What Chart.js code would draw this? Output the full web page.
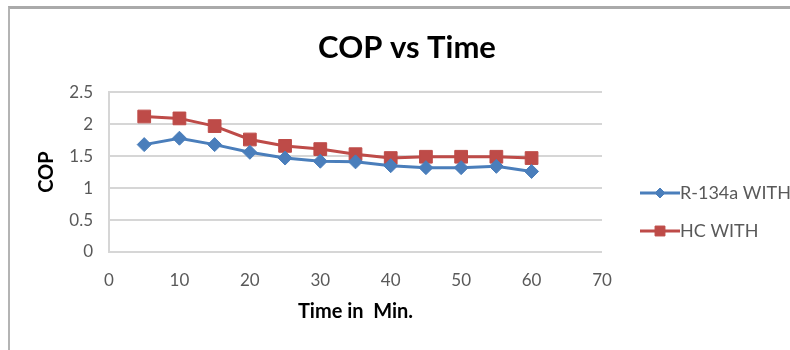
<!DOCTYPE html>
<html lang="en">
<head>
<meta charset="UTF-8">
<title>COP vs Time</title>
<script src="https://cdn.jsdelivr.net/npm/chart.js"></script>
<style>
    html, body { margin: 0; padding: 0; background: #fff; }
    #wrap { position: relative; width: 790px; height: 350px; overflow: hidden; }
    /* grey frame of the pasted chart, only top and left edges are visible */
    #frame {
        position: absolute; left: 8px; top: 6px; width: 900px; height: 500px;
        border-top: 3px solid #aaaaaa; border-left: 2px solid #b4b4b4;
    }
    #chart { position: absolute; left: 0; top: 0; }
</style>
</head>
<body>
<div id="wrap">
    <div id="frame"></div>
    <canvas id="chart" width="790" height="350"></canvas>
</div>
<script>
    // data
    const timeMin  = [5, 10, 15, 20, 25, 30, 35, 40, 45, 50, 55, 60];
    const r134aCop = [1.68, 1.78, 1.68, 1.56, 1.47, 1.42, 1.41, 1.35, 1.32, 1.32, 1.34, 1.26];
    const hcCop    = [2.12, 2.09, 1.97, 1.76, 1.66, 1.61, 1.53, 1.47, 1.49, 1.49, 1.49, 1.47];
    const seriesNames = ['R-134a WITH', 'HC WITH'];
    const xTicks = [0, 10, 20, 30, 40, 50, 60, 70];
    const yTicks = [0, 0.5, 1, 1.5, 2, 2.5];

    const FONT = "Lato, 'Liberation Sans', sans-serif";
    const BLUE = '#4a7ebb';
    const RED = '#be4b48';

    const toPoints = (xs, ys) => xs.map((x, i) => ({ x: x, y: ys[i] }));

    // Excel style legend on the right: short line with the marker in the middle
    const sideLegend = {
        id: 'sideLegend',
        afterDraw(chart) {
            const ctx = chart.ctx;
            const x0 = chart.chartArea.right + 38;
            const rows = [193, 231];
            chart.data.datasets.forEach((ds, i) => {
                const y = rows[i];
                ctx.save();
                ctx.strokeStyle = ds.borderColor;
                ctx.fillStyle = ds.borderColor;
                ctx.lineWidth = 3;
                ctx.beginPath();
                ctx.moveTo(x0, y);
                ctx.lineTo(x0 + 40, y);
                ctx.stroke();
                ctx.lineWidth = 1;
                Chart.helpers.drawPoint(ctx, {
                    pointStyle: ds.pointStyle,
                    radius: ds.legendRadius,
                    borderWidth: 1
                }, x0 + 20, y);
                ctx.fillStyle = '#595959';
                ctx.font = '18px ' + FONT;
                ctx.textBaseline = 'middle';
                ctx.textAlign = 'left';
                ctx.fillText(ds.label, x0 + 40, y);
                ctx.restore();
            });
        }
    };

    new Chart(document.getElementById('chart'), {
        type: 'scatter',
        data: {
            datasets: [{
                label: seriesNames[0],
                data: toPoints(timeMin, r134aCop),
                showLine: true,
                borderColor: BLUE,
                backgroundColor: BLUE,
                borderWidth: 3,
                pointStyle: 'rectRot',
                pointRadius: 7,
                legendRadius: 5,
                pointBorderWidth: 1,
                xAxisID: 'x',
                yAxisID: 'y'
            }, {
                label: seriesNames[1],
                data: toPoints(timeMin, hcCop),
                showLine: true,
                borderColor: RED,
                backgroundColor: RED,
                borderWidth: 3,
                pointStyle: 'rect',
                pointRadius: 9,
                legendRadius: 7,
                pointBorderWidth: 1,
                xAxisID: 'x',
                yAxisID: 'y'
            }]
        },
        options: {
            responsive: false,
            animation: false,
            layout: { padding: { left: 24, right: 0, top: 10, bottom: 10 } },
            plugins: {
                legend: { display: false },
                tooltip: { enabled: false },
                title: {
                    display: true,
                    text: 'COP vs Time',
                    color: '#000',
                    font: { family: FONT, size: 31, weight: 'bold' },
                    padding: { top: 19, bottom: 26 }
                }
            },
            scales: {
                x: {
                    type: 'linear',
                    min: 0,
                    max: 70,
                    afterBuildTicks: (axis) => { axis.ticks = xTicks.map(v => ({ value: v })); },
                    afterFit: (axis) => { axis.height = 88; },
                    grid: { display: false, drawTicks: false },
                    border: { display: false },
                    ticks: { color: '#595959', padding: 18, font: { family: FONT, size: 17 } },
                    title: {
                        display: true,
                        text: 'Time in  Min.',
                        color: '#000',
                        font: { family: FONT, size: 20, weight: 'bold' },
                        padding: { top: 4, bottom: 16 }
                    }
                },
                y: {
                    min: 0,
                    max: 2.5,
                    afterBuildTicks: (axis) => { axis.ticks = yTicks.map(v => ({ value: v })); },
                    afterFit: (axis) => { axis.width = 85; },
                    grid: { color: '#d6d6d6', lineWidth: 2, drawTicks: false },
                    border: { display: true, color: '#d6d6d6', width: 2 },
                    ticks: {
                        color: '#595959',
                        padding: 16,
                        font: { family: FONT, size: 17 },
                        callback: (v) => String(v)
                    },
                    title: {
                        display: true,
                        text: 'COP',
                        color: '#000',
                        font: { family: FONT, size: 20, weight: 'bold' },
                        padding: { top: 11, bottom: 0 }
                    }
                },
                // empty right-hand box that leaves room for the legend
                legendSpace: {
                    type: 'linear',
                    position: 'right',
                    afterFit: (axis) => { axis.width = 188; },
                    grid: { display: false, drawTicks: false },
                    border: { display: false },
                    ticks: { display: false }
                }
            }
        },
        plugins: [sideLegend]
    });
</script>
</body>
</html>
